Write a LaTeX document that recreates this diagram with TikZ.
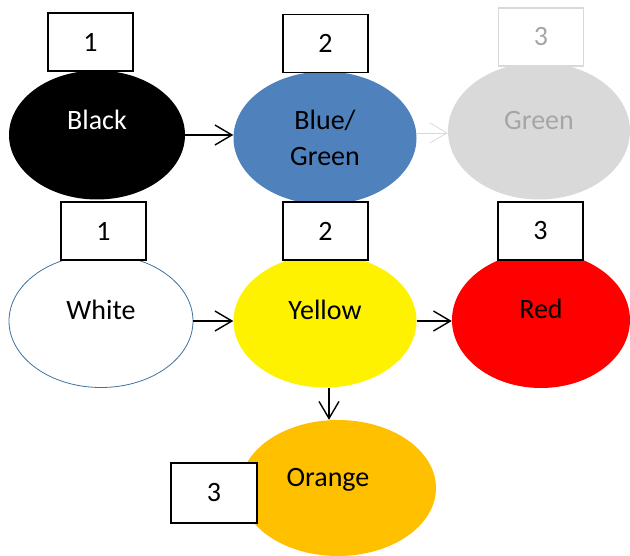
\documentclass[tikz,border=0pt]{standalone}
\usepackage{fontspec}
\setmainfont{Carlito}
\usetikzlibrary{shapes.geometric,arrows.meta}
\definecolor{steel}{HTML}{4F81BD}
\definecolor{mist}{HTML}{D9D9D9}
\definecolor{ash}{HTML}{A6A6A6}
\definecolor{amber}{HTML}{FFC000}
\definecolor{rim}{HTML}{41719C}
\begin{document}
\begin{tikzpicture}[
    x=1pt, y=-1pt,
    font=\fontsize{28}{36}\selectfont,
    blob/.style={
      ellipse,
      draw=none,
      inner sep=0pt,
      align=center
    },
    oneline/.style={text height=19pt, text depth=22pt},
    tag/.style={
      draw,
      fill=white,
      line width=1.1pt,
      minimum width=85pt,
      minimum height=58pt,
      inner sep=0pt
    },
    link/.style={line width=1.4pt, -{Straight Barb[length=17pt,width=20pt]}}
  ]
    \useasboundingbox (0,0) rectangle (630,556);
    \node[blob,oneline,text depth=29pt,fill=black,text=white,minimum width=176pt,minimum height=129pt] (black) at (97,135) {Black};
    \node[blob,fill=steel,minimum width=183pt,minimum height=133pt] (blue) at (325,138) {Blue/\\Green};
    \node[blob,oneline,fill=mist,text=ash,minimum width=182pt,minimum height=137pt] (green) at (539,131) {Green};
    \node[blob,oneline,fill=white,draw=rim,line width=0.8pt,minimum width=184pt,minimum height=133pt] (white) at (101,321) {White};
    \node[blob,oneline,fill=yellow,minimum width=183pt,minimum height=133pt] (yellow) at (325,321) {Yellow};
    \node[blob,oneline,fill=red,minimum width=178pt,minimum height=136pt] (red) at (541,320) {Red};
    \node[blob,oneline,fill=amber,minimum width=196pt,minimum height=136pt] (orange) at (338,488) {Orange\hspace*{20pt}};

    \draw[link] (black.east) -- (black.east -| blue.west);
    \draw[link,draw=mist,line width=0.8pt] ([yshift=5pt]blue.east) -- ([yshift=5pt]blue.east -| green.west);
    \draw[link] (white.east) -- (white.east -| yellow.west);
    \draw[link] (yellow.east) -- (yellow.east -| red.west);
    \draw[link] ([xshift=4pt]yellow.south) -- ([xshift=4pt]yellow.south |- orange.north);

    \node[tag] (blackno) at (90.5,42) {1};
    \node[tag] (blueno) at (325.5,43.5) {2};
    \node[tag,draw=mist,text=ash,line width=1.6pt] (greenno) at (541,37) {3};
    \node[tag] (whiteno) at (103.5,231) {1};
    \node[tag] (yellowno) at (325.5,231) {2};
    \node[tag] (redno) at (540.5,231) {3};
    \node[tag,line width=2.2pt,minimum width=86pt,minimum height=60pt] (orangeno) at (214,493) {3};
  \end{tikzpicture}
\end{document}
